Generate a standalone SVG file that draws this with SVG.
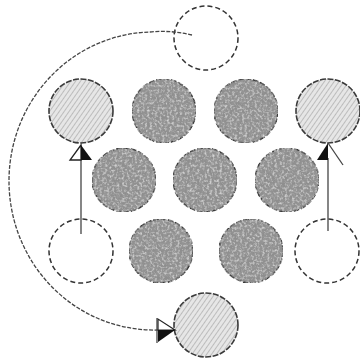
<svg xmlns="http://www.w3.org/2000/svg" width="360" height="360" viewBox="0 0 360 360">
<defs>
<filter id="mottle" x="0" y="0" width="1" height="1">
<feTurbulence type="fractalNoise" baseFrequency="0.3" numOctaves="3" seed="4" result="n"/>
<feColorMatrix in="n" type="matrix" values="0 0 0 0 0.35  0 0 0 0 0.35  0 0 0 0 0.35  0 0 0 1.4 -0.5" result="a"/>
<feTurbulence type="fractalNoise" baseFrequency="0.4" numOctaves="2" seed="9" result="n2"/>
<feColorMatrix in="n2" type="matrix" values="0 0 0 0 0.85  0 0 0 0 0.85  0 0 0 0 0.85  0 0 0 1.6 -0.75" result="b"/>
<feMerge result="m"><feMergeNode in="SourceGraphic"/><feMergeNode in="a"/><feMergeNode in="b"/></feMerge>
<feComposite in="m" in2="SourceGraphic" operator="in"/>
</filter>
<pattern id="hatch" width="4" height="4" patternUnits="userSpaceOnUse" patternTransform="rotate(35)">
<rect width="4" height="4" fill="#e6e6e6"/>
<line x1="0" y1="0" x2="0" y2="4" stroke="#a0a0a0" stroke-width="1.2"/>
</pattern>
</defs>
<style>
.dark{fill:#8e8e8e;stroke:#3a3a3a;stroke-width:1.6;stroke-dasharray:6 1.5}
.hat{fill:url(#hatch);stroke:#3a3a3a;stroke-width:1.6;stroke-dasharray:6 1.5}
.empty{fill:none;stroke:#333;stroke-width:1.5;stroke-dasharray:5 3}
.ln{fill:none;stroke:#444;stroke-width:1.3}
</style>
<g id="top-target"><circle class="empty" cx="206" cy="38" r="32"/></g>
<g id="r1c1"><circle class="hat" cx="81" cy="111" r="32"/></g>
<g id="r1c2" filter="url(#mottle)"><circle class="dark" cx="164" cy="111" r="32"/></g>
<g id="r1c3" filter="url(#mottle)"><circle class="dark" cx="246" cy="111" r="32"/></g>
<g id="r1c4"><circle class="hat" cx="328" cy="111" r="32"/></g>
<g id="r2c1" filter="url(#mottle)"><circle class="dark" cx="124" cy="180" r="32"/></g>
<g id="r2c2" filter="url(#mottle)"><circle class="dark" cx="205" cy="180" r="32"/></g>
<g id="r2c3" filter="url(#mottle)"><circle class="dark" cx="287" cy="180" r="32"/></g>
<g id="r3c1"><circle class="empty" cx="81" cy="251" r="32"/></g>
<g id="r3c2" filter="url(#mottle)"><circle class="dark" cx="161" cy="251" r="32"/></g>
<g id="r3c3" filter="url(#mottle)"><circle class="dark" cx="251" cy="251" r="32"/></g>
<g id="r3c4"><circle class="empty" cx="327" cy="251" r="32"/></g>
<g id="bottom"><circle class="hat" cx="206" cy="325" r="32"/></g>
<g id="connectors">
<line class="ln" x1="81" y1="234" x2="81" y2="158"/>
<polygon points="81,145 70,160 81,160" fill="#fff" stroke="#222" stroke-width="1.3"/>
<polygon points="81,145 92,160 81,160" fill="#111"/>
<line class="ln" x1="328" y1="231" x2="328" y2="158"/>
<polygon points="328,143 317,160 328,160" fill="#111"/>
<line class="ln" x1="328" y1="143" x2="343" y2="165"/>
<path class="ln" d="M192,35 Q172,30 150,32 A145 149 0 0 0 158,330 L174,330" stroke-dasharray="4 1.5"/>
<polygon points="175,330 158,319 158,330" fill="#fff" stroke="#222" stroke-width="1.2"/>
<polygon points="175,330 158,342 158,330" fill="#111"/>
<line class="ln" x1="157" y1="318" x2="157" y2="343"/>
</g>
</svg>
